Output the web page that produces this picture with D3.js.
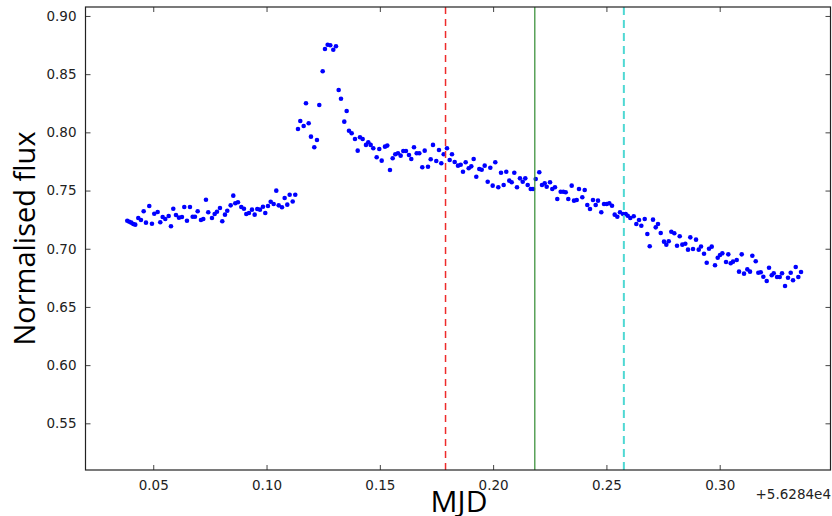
<!DOCTYPE html>
<html>
<head>
<meta charset="utf-8">
<script src="https://cdn.jsdelivr.net/npm/d3@7"></script>
<style>
  html, body { margin: 0; padding: 0; background: #fff; }
  svg { display: block; }
</style>
</head>
<body>
<svg id="chart" width="832" height="516"></svg>
<script>
// Light curve: MJD offset from 56284 and normalised flux
const mjd = [
  0.03853, 0.03941, 0.04030, 0.04118, 0.04206, 0.04339, 0.04458, 0.04577, 0.04679, 0.04824,
  0.04943, 0.05045, 0.05195, 0.05310, 0.05416, 0.05531, 0.05681, 0.05782, 0.05884, 0.06003,
  0.06135, 0.06268, 0.06369, 0.06488, 0.06621, 0.06740, 0.06841, 0.06961, 0.07106, 0.07208,
  0.07327, 0.07428, 0.07592, 0.07711, 0.07812, 0.07945, 0.08046, 0.08166, 0.08267, 0.08417,
  0.08532, 0.08620, 0.08739, 0.08885, 0.09004, 0.09106, 0.09225, 0.09357, 0.09476, 0.09591,
  0.09710, 0.09843, 0.09944, 0.10063, 0.10183, 0.10315, 0.10430, 0.10536, 0.10681, 0.10800,
  0.10915, 0.11021, 0.11154, 0.11268, 0.11388, 0.11489, 0.11639, 0.11741, 0.11860, 0.11961,
  0.12107, 0.12226, 0.12328, 0.12478, 0.12579, 0.12698, 0.12813, 0.12946, 0.13065, 0.13184,
  0.13286, 0.13431, 0.13537, 0.13639, 0.13758, 0.13904, 0.14023, 0.14124, 0.14243, 0.14389,
  0.14491, 0.14596, 0.14711, 0.14861, 0.14976, 0.15082, 0.15227, 0.15329, 0.15448, 0.15567,
  0.15682, 0.15801, 0.15920, 0.16035, 0.16154, 0.16287, 0.16388, 0.16508, 0.16627, 0.16742,
  0.16874, 0.16980, 0.17126, 0.17245, 0.17346, 0.17492, 0.17611, 0.17713, 0.17819, 0.17964,
  0.18083, 0.18185, 0.18304, 0.18450, 0.18569, 0.18670, 0.18789, 0.18922, 0.19036, 0.19142,
  0.19257, 0.19390, 0.19496, 0.19628, 0.19761, 0.19876, 0.19981, 0.20096, 0.20229, 0.20348,
  0.20466, 0.20581, 0.20714, 0.20820, 0.20935, 0.21054, 0.21186, 0.21306, 0.21420, 0.21526,
  0.21659, 0.21760, 0.21880, 0.22037, 0.22157, 0.22276, 0.22364, 0.22511, 0.22612, 0.22731,
  0.22832, 0.22982, 0.23097, 0.23203, 0.23318, 0.23468, 0.23570, 0.23689, 0.23790, 0.23936,
  0.24042, 0.24157, 0.24276, 0.24408, 0.24527, 0.24629, 0.24774, 0.24894, 0.25013, 0.25128,
  0.25247, 0.25366, 0.25481, 0.25600, 0.25733, 0.25852, 0.25940, 0.26055, 0.26205, 0.26320,
  0.26439, 0.26541, 0.26691, 0.26806, 0.26911, 0.27057, 0.27176, 0.27277, 0.27397, 0.27542,
  0.27644, 0.27750, 0.27865, 0.27997, 0.28116, 0.28235, 0.28350, 0.28482, 0.28601, 0.28703,
  0.28822, 0.28955, 0.29074, 0.29175, 0.29308, 0.29427, 0.29528, 0.29648, 0.29793, 0.29913,
  0.30014, 0.30116, 0.30279, 0.30380, 0.30486, 0.30588, 0.30751, 0.30853, 0.30972, 0.31074,
  0.31219, 0.31338, 0.31440, 0.31590, 0.31705, 0.31811, 0.31926, 0.32076, 0.32177, 0.32296,
  0.32384, 0.32530, 0.32649, 0.32751, 0.32883, 0.33015, 0.33134, 0.33236, 0.33355, 0.33470,
  0.33589
];

const flux = [
  0.7241, 0.7232, 0.7224, 0.7213, 0.7207, 0.7264, 0.7247, 0.7322, 0.7224, 0.7367,
  0.7215, 0.7301, 0.7316, 0.7227, 0.7273, 0.7256, 0.7281, 0.7193, 0.7344, 0.7290,
  0.7267, 0.7273, 0.7359, 0.7241, 0.7359, 0.7275, 0.7275, 0.7322, 0.7247, 0.7256,
  0.7421, 0.7313, 0.7264, 0.7299, 0.7318, 0.7350, 0.7236, 0.7293, 0.7327, 0.7373,
  0.7456, 0.7391, 0.7399, 0.7359, 0.7344, 0.7299, 0.7307, 0.7336, 0.7293, 0.7342,
  0.7336, 0.7361, 0.7307, 0.7367, 0.7404, 0.7384, 0.7499, 0.7373, 0.7356, 0.7436,
  0.7379, 0.7464, 0.7406, 0.7464, 0.8029, 0.8098, 0.8055, 0.8250, 0.8078, 0.7963,
  0.7872, 0.7934, 0.8235, 0.8525, 0.8716, 0.8753, 0.8748, 0.8710, 0.8740, 0.8364,
  0.8289, 0.8092, 0.8184, 0.8014, 0.7992, 0.7943, 0.7843, 0.7958, 0.7943, 0.7892,
  0.7915, 0.7892, 0.7863, 0.7786, 0.7857, 0.7757, 0.7877, 0.7886, 0.7677, 0.7777,
  0.7812, 0.7820, 0.7800, 0.7840, 0.7840, 0.7806, 0.7771, 0.7872, 0.7820, 0.7820,
  0.7700, 0.7843, 0.7705, 0.7769, 0.7892, 0.7754, 0.7849, 0.7734, 0.7812, 0.7863,
  0.7763, 0.7812, 0.7745, 0.7714, 0.7722, 0.7662, 0.7743, 0.7691, 0.7708, 0.7771,
  0.7619, 0.7685, 0.7679, 0.7714, 0.7576, 0.7696, 0.7542, 0.7743, 0.7528, 0.7653,
  0.7548, 0.7662, 0.7585, 0.7571, 0.7653, 0.7528, 0.7605, 0.7576, 0.7605, 0.7548,
  0.7513, 0.7513, 0.7599, 0.7657, 0.7548, 0.7562, 0.7533, 0.7571, 0.7513, 0.7528,
  0.7427, 0.7490, 0.7490, 0.7485, 0.7427, 0.7542, 0.7413, 0.7419, 0.7513, 0.7442,
  0.7505, 0.7376, 0.7342, 0.7419, 0.7376, 0.7413, 0.7313, 0.7384, 0.7384, 0.7391,
  0.7370, 0.7293, 0.7275, 0.7313, 0.7299, 0.7299, 0.7284, 0.7264, 0.7279, 0.7213,
  0.7247, 0.7198, 0.7256, 0.7127, 0.7021, 0.7250, 0.7184, 0.7213, 0.7135, 0.7061,
  0.7035, 0.7064, 0.7146, 0.7133, 0.7026, 0.7107, 0.7035, 0.7043, 0.6992, 0.7098,
  0.6998, 0.7078, 0.6992, 0.7019, 0.6957, 0.6880, 0.7000, 0.7018, 0.6858, 0.6923,
  0.6946, 0.6961, 0.6886, 0.6952, 0.6875, 0.6889, 0.6903, 0.6803, 0.6952, 0.6786,
  0.6823, 0.6803, 0.6940, 0.6892, 0.6794, 0.6798, 0.6760, 0.6723, 0.6837, 0.6772,
  0.6789, 0.6757, 0.6757, 0.6789, 0.6680, 0.6751, 0.6794, 0.6729, 0.6843, 0.6757,
  0.6800
];

// Reference epochs marked with vertical lines
const markerEpochs = [0.1790, 0.2184, 0.2577];
const markerColors = ["#ee2b2b", "#2f8a2f", "#4fd8d3"];
const markerDashes = ["7,5", null, "8,5"];
const markerWidths = [1.5, 1.2, 2];

const xTicks = [0.05, 0.10, 0.15, 0.20, 0.25, 0.30];
const yTicks = [0.55, 0.60, 0.65, 0.70, 0.75, 0.80, 0.85, 0.90];
const xDomain = [0.0201, 0.3489];
const yDomain = [0.5099, 0.9077];
const offsetLabel = "+5.6284e4";

const svg = d3.select("#chart");
const m = { left: 85.5, right: 830.5, top: 7, bottom: 470 };

const x = d3.scaleLinear().domain(xDomain).range([m.left, m.right]);
const y = d3.scaleLinear().domain(yDomain).range([m.bottom, m.top]);

const tickFont = "DejaVu Sans, sans-serif";
const inkColor = "#222";

svg.append("defs").append("clipPath").attr("id", "plot-clip")
  .append("rect")
  .attr("x", m.left).attr("y", m.top)
  .attr("width", m.right - m.left).attr("height", m.bottom - m.top);

// Data points
svg.append("g").attr("clip-path", "url(#plot-clip)")
  .selectAll("circle")
  .data(mjd.map((d, i) => [d, flux[i]]))
  .join("circle")
  .attr("cx", d => x(d[0]))
  .attr("cy", d => y(d[1]))
  .attr("r", 2.3)
  .attr("fill", "#0000ff");

// Vertical epoch lines
svg.append("g").selectAll("line")
  .data(markerEpochs)
  .join("line")
  .attr("x1", d => x(d))
  .attr("x2", d => x(d))
  .attr("y1", m.top).attr("y2", m.bottom)
  .attr("stroke", (d, i) => markerColors[i])
  .attr("stroke-width", (d, i) => markerWidths[i])
  .attr("stroke-dasharray", (d, i) => markerDashes[i]);

// Axes with inward ticks on all four sides
function styleAxis(g) {
  g.select(".domain").remove();
  g.selectAll(".tick line").attr("stroke", "#444").attr("stroke-width", 1);
  g.selectAll(".tick text")
    .attr("fill", inkColor)
    .attr("font-family", tickFont)
    .attr("font-size", 13.5);
}

svg.append("g")
  .attr("transform", `translate(0,${m.bottom})`)
  .call(d3.axisBottom(x).tickValues(xTicks).tickFormat(d3.format(".2f"))
    .tickSizeInner(-5).tickSizeOuter(0).tickPadding(10))
  .call(styleAxis);

svg.append("g")
  .attr("transform", `translate(0,${m.top})`)
  .call(d3.axisTop(x).tickValues(xTicks).tickFormat("")
    .tickSizeInner(-5).tickSizeOuter(0))
  .call(styleAxis);

svg.append("g")
  .attr("transform", `translate(${m.left},0)`)
  .call(d3.axisLeft(y).tickValues(yTicks).tickFormat(d3.format(".2f"))
    .tickSizeInner(-5).tickSizeOuter(0).tickPadding(9))
  .call(styleAxis);

svg.append("g")
  .attr("transform", `translate(${m.right},0)`)
  .call(d3.axisRight(y).tickValues(yTicks).tickFormat("")
    .tickSizeInner(-5).tickSizeOuter(0))
  .call(styleAxis);

// Frame
svg.append("rect")
  .attr("x", m.left).attr("y", m.top)
  .attr("width", m.right - m.left).attr("height", m.bottom - m.top)
  .attr("fill", "none").attr("stroke", "#222").attr("stroke-width", 1.2);

// Axis titles
svg.append("text")
  .attr("x", (m.left + m.right) / 2 + 1)
  .attr("y", 512)
  .attr("text-anchor", "middle")
  .attr("font-family", "Open Sans, sans-serif")
  .attr("font-size", 30)
  .attr("fill", "#000")
  .text("MJD");

svg.append("text")
  .attr("transform", `translate(35,${(m.top + m.bottom) / 2}) rotate(-90)`)
  .attr("text-anchor", "middle")
  .attr("font-family", "Open Sans, sans-serif")
  .attr("font-size", 29)
  .attr("fill", "#000")
  .text("Normalised flux");

svg.append("text")
  .attr("x", 831)
  .attr("y", 499)
  .attr("text-anchor", "end")
  .attr("font-family", tickFont)
  .attr("font-size", 13.5)
  .attr("fill", inkColor)
  .text(offsetLabel);
</script>
</body>
</html>
